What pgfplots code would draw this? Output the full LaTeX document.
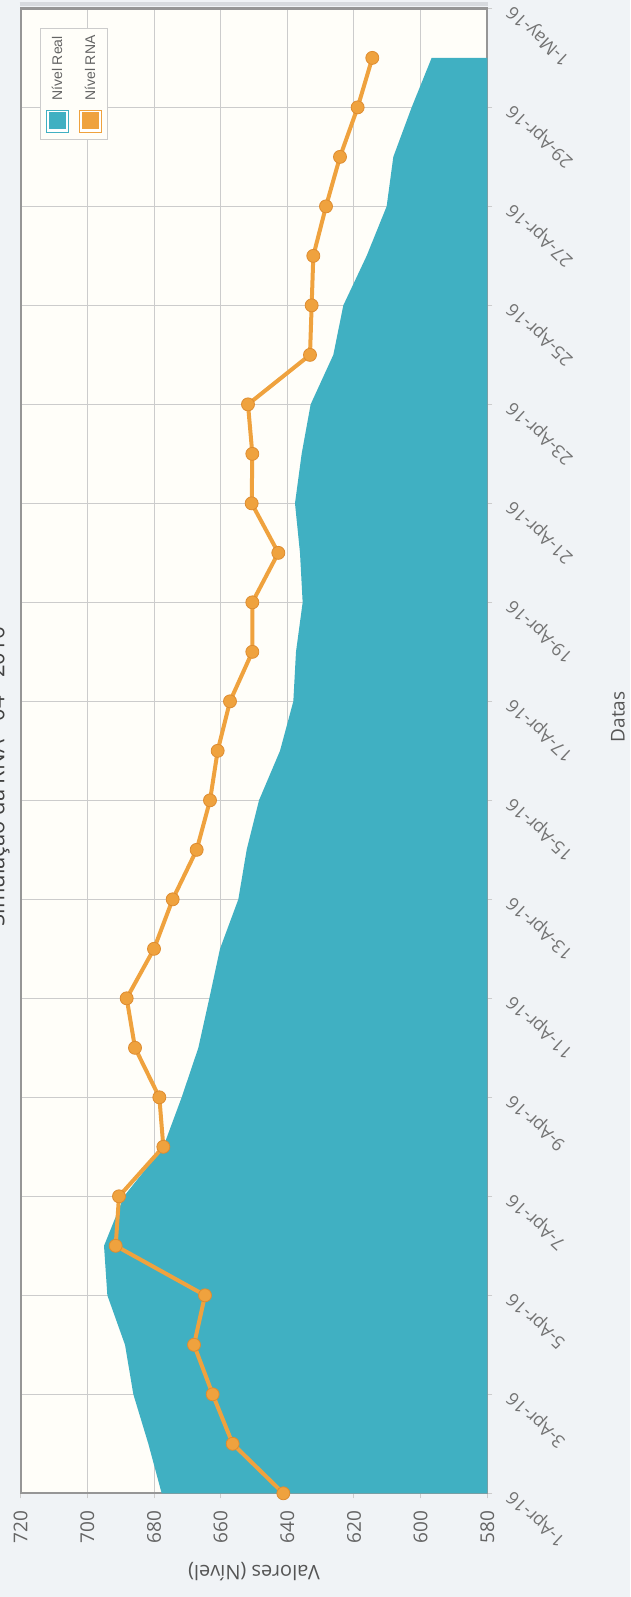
\documentclass[border=0pt]{standalone}
\usepackage{fontspec}
\setmainfont{Open Sans}
\newfontfamily\legfont{Liberation Sans}
\usepackage{pgfplots}
\pgfplotsset{compat=1.18}
\usetikzlibrary{backgrounds}
\definecolor{tealc}{RGB}{64,176,194}
\definecolor{orangec}{RGB}{239,162,62}
\definecolor{orangedk}{RGB}{222,140,48}
\definecolor{bgc}{RGB}{240,243,246}
\definecolor{plotbg}{RGB}{255,254,249}
\definecolor{gridc}{RGB}{204,204,204}
\definecolor{axc}{RGB}{150,150,150}
\definecolor{shadc}{RGB}{215,218,222}
\definecolor{txtc}{RGB}{100,100,100}
\definecolor{datc}{RGB}{115,115,115}
\definecolor{labc}{RGB}{85,85,85}
\begin{document}
\begin{tikzpicture}
\begin{axis}[name=ax, scale only axis, width=466.6pt, height=1484.9pt,
  x dir=reverse, xmin=580, xmax=720, ymin=0, ymax=30,
  xtick={580,600,...,720}, xticklabels={580,600,620,640,660,680,700,720},
  ytick={0,2,...,30},
  yticklabels={1-Apr-16,3-Apr-16,5-Apr-16,7-Apr-16,9-Apr-16,11-Apr-16,13-Apr-16,15-Apr-16,17-Apr-16,19-Apr-16,21-Apr-16,23-Apr-16,25-Apr-16,27-Apr-16,29-Apr-16,1-May-16},
  xtick pos=bottom, ytick pos=right,
  xticklabel pos=bottom, yticklabel pos=right,
  grid=major, major grid style={draw=gridc, line width=1pt},
  axis line style={draw=axc, line width=2pt},
  tick style={draw=gridc, line width=1pt}, major tick length=5pt, tick align=outside,
  axis background/.style={fill=plotbg},
  xticklabel shift=12pt, yticklabel shift=18pt,
  xticklabel style={rotate=90, anchor=east, inner sep=0pt, font=\fontsize{19}{22}\selectfont, text=txtc},
  yticklabel style={rotate=137, anchor=east, inner sep=0pt, font=\fontsize{18}{21}\selectfont, text=datc},
]
\addplot[fill=tealc, draw=none] coordinates {
(677.7,0) (681.7,1) (686.2,2) (688.7,3) (694.0,4) (695.0,5) (689.0,6) (677.2,7) (671.7,8) (666.7,9)
(663.4,10) (660.2,11) (654.7,12) (652.2,13) (648.5,14) (642.2,15) (638.2,16) (637.4,17) (635.4,18) (636.2,19)
(637.7,20) (635.7,21) (633.0,22) (626.2,23) (623.2,24) (616.2,25) (610.2,26) (608.2,27) (602.7,28) (596.7,29)
(580,29) (580,0)} -- cycle;
\addplot[draw=orangec, line width=4pt, mark=*, mark size=6.5pt, mark options={fill=orangec, draw=orangedk, line width=0.8pt}] coordinates {
(641.2,0) (656.4,1) (662.4,2) (668.0,3) (664.7,4) (691.5,5) (690.5,6) (677.2,7) (678.4,8) (685.7,9)
(688.2,10) (680.0,11) (674.4,12) (667.2,13) (663.2,14) (660.9,15) (657.2,16) (650.5,17) (650.5,18) (642.7,19)
(650.7,20) (650.5,21) (651.8,22) (633.2,23) (632.7,24) (632.2,25) (628.4,26) (624.2,27) (618.9,28) (614.5,29)};
\end{axis}
% top border with shadow
\draw[shadc, line width=4pt] ([shift={(-1pt,4pt)}]ax.north west) -- ([shift={(1pt,4pt)}]ax.north east);
\draw[axc, line width=3pt] (ax.north west) -- (ax.north east);
% legend (rotated, drawn by hand)
\draw[draw=gridc, line width=1pt, fill=plotbg] ([shift={(19.3pt,-20.6pt)}]ax.north west) rectangle ([shift={(86.3pt,-131.6pt)}]ax.north west);
\draw[draw=tealc, fill=white, line width=0.8pt] ([shift={(25.3pt,-101.6pt)}]ax.north west) rectangle ([shift={(47.3pt,-123.6pt)}]ax.north west);
\fill[tealc] ([shift={(27.8pt,-104.1pt)}]ax.north west) rectangle ([shift={(44.8pt,-121.1pt)}]ax.north west);
\draw[draw=orangec, fill=white, line width=0.8pt] ([shift={(58.3pt,-101.6pt)}]ax.north west) rectangle ([shift={(80.3pt,-123.6pt)}]ax.north west);
\fill[orangec] ([shift={(60.8pt,-104.1pt)}]ax.north west) rectangle ([shift={(77.8pt,-121.1pt)}]ax.north west);
\node[rotate=90, anchor=west, inner sep=0pt, font=\legfont\fontsize{14}{16}\selectfont, text=txtc] at ([shift={(36.3pt,-92.6pt)}]ax.north west) {Nível Real};
\node[rotate=90, anchor=west, inner sep=0pt, font=\legfont\fontsize{14}{16}\selectfont, text=txtc] at ([shift={(69.3pt,-92.6pt)}]ax.north west) {Nível RNA};
\node[rotate=90, anchor=base, font=\fontsize{22}{26}\selectfont, text=black!75] at ([shift={(-16.2pt,716.3pt)}]ax.south west) {Simulação da RNA - 04 - 2016};
\node[rotate=90, font=\fontsize{19}{22}\selectfont, text=labc] at ([shift={(597.3pt,776.3pt)}]ax.south west) {Datas};
\node[rotate=180, font=\fontsize{20}{24}\selectfont, text=labc] at ([shift={(233.3pt,-78.7pt)}]ax.south west) {Valores (Nível)};
\pgfresetboundingbox
\path[use as bounding box] ([shift={(-20.7pt,-103.7pt)}]ax.south west) rectangle ([shift={(609.3pt,1493.3pt)}]ax.south west);
\begin{scope}[on background layer]
\fill[bgc] ([shift={(-20.7pt,-103.7pt)}]ax.south west) rectangle ([shift={(609.3pt,1493.3pt)}]ax.south west);
\end{scope}
\end{tikzpicture}
\end{document}
